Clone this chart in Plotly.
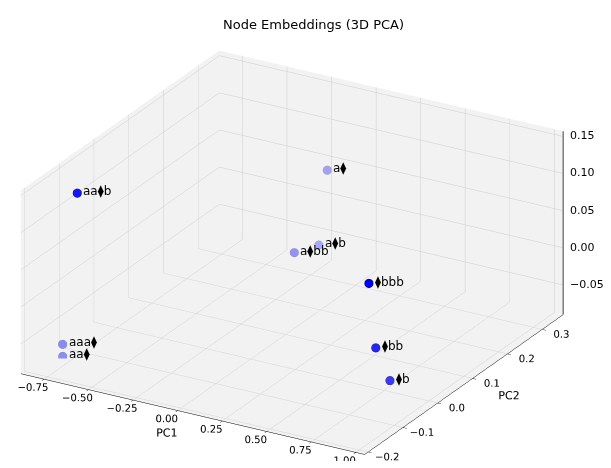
import numpy as np
import plotly.graph_objects as go

# ---- data ----
labels = ["aa⧫b", "a⧫", "a⧫b", "a⧫bb", "⧫bbb", "aaa⧫", "aa⧫", "⧫bb", "⧫b"]
pc1 = [-0.72, -0.04, 0.03, -0.01, 0.71, -0.81, -0.80, 0.76, 0.82]
pc2 = [-0.13, 0.24, 0.18, 0.13, -0.024, -0.126, -0.131, -0.03, -0.02]
pc3 = [0.136, 0.083, 0.006, 0.010, 0.060, -0.074, -0.088, -0.022, -0.066]

x_ticks = [-0.75, -0.50, -0.25, 0.00, 0.25, 0.50, 0.75, 1.00]
y_ticks = [-0.2, -0.1, 0.0, 0.1, 0.2, 0.3]
z_ticks = [-0.05, 0.00, 0.05, 0.10, 0.15]

x_range = [-0.88, 1.05]
y_range = [-0.21, 0.36]
z_range = [-0.09, 0.157]

# ---- depth shading (like matplotlib's depthshade, view elev=30, azim=-60) ----
X, Y, Z = np.array(pc1), np.array(pc2), np.array(pc3)
xn = (X - x_range[0]) / (x_range[1] - x_range[0]) * 4
yn = (Y - y_range[0]) / (y_range[1] - y_range[0]) * 4
zn = (Z - z_range[0]) / (z_range[1] - z_range[0]) * 3
elev, azim = np.radians(30), np.radians(-60)
view = np.array([np.cos(elev) * np.cos(azim), np.cos(elev) * np.sin(azim), np.sin(elev)])
depth = xn * view[0] + yn * view[1] + zn * view[2]
norm = (depth - depth.min()) / (depth.max() - depth.min())
alpha = 0.3 + 0.7 * norm  # nearest -> 1, farthest -> 0.3
bg = np.array([240, 240, 242])
blue = np.array([0, 0, 255])
fill = ["rgb(%d,%d,%d)" % tuple((bg * (1 - a) + blue * a).round()) for a in alpha]
edge = ["rgb(%d,%d,%d)" % tuple((bg * (1 - a) + np.array([0, 0, 60]) * a).round()) for a in alpha]

fig = go.Figure()
fig.add_trace(
    go.Scatter3d(
        x=pc1, y=pc2, z=pc3,
        mode="markers",
        marker=dict(size=5, color=fill, line=dict(color=edge, width=1)),
        showlegend=False,
        hoverinfo="skip",
    )
)

# z axis drawn on the right-hand back edge, like matplotlib
fig.add_trace(
    go.Scatter3d(
        x=[x_range[1], x_range[1]], y=[y_range[1], y_range[1]], z=z_range,
        mode="lines", line=dict(color="black", width=1.5),
        showlegend=False, hoverinfo="skip",
    )
)

def axis(title, rng, ticks, fmt):
    return dict(
        title=dict(text=title, font=dict(family="DejaVu Sans", size=11, color="black")),
        range=rng,
        tickvals=ticks,
        tickformat=fmt,
        tickangle=0,
        tickfont=dict(family="DejaVu Sans", size=11, color="black"),
        showbackground=True,
        backgroundcolor="rgb(242,242,242)",
        gridcolor="rgb(205,205,205)",
        gridwidth=1,
        showline=True,
        linecolor="black",
        linewidth=1,
        zeroline=False,
        ticks="outside",
        tickcolor="black",
        ticklen=4,
        showspikes=False,
        autorange=False,
    )

zax = axis("", z_range, z_ticks, ".2f")
zax.update(showticklabels=False, ticks="", showline=False)

font = dict(family="DejaVu Sans", size=11, color="black")
anns = [
    dict(
        x=x_range[1], y=y_range[1], z=t,
        text=("%.2f" % t).replace("-", "\u2212"),
        showarrow=False, xanchor="left", xshift=5, font=font,
    )
    for t in z_ticks
]
# point labels, placed just to the right of each marker
anns += [
    dict(
        x=px, y=py, z=pz, text=lab,
        showarrow=False, xanchor="left", xshift=4, yshift=1,
        font=dict(family="DejaVu Sans", size=12, color="black"),
    )
    for px, py, pz, lab in zip(pc1, pc2, pc3, labels)
]

e2 = np.radians(24.0)
cam = np.array([np.cos(e2) * np.cos(azim), np.cos(e2) * np.sin(azim), np.sin(e2)])
r = 2.0
fig.update_layout(
    width=611,
    height=468,
    margin=dict(l=0, r=0, t=0, b=0),
    paper_bgcolor="white",
    title=dict(
        text="Node Embeddings (3D PCA)",
        x=0.5, xanchor="center", y=0.965, yanchor="middle",
        font=dict(family="DejaVu Sans", size=13, color="black"),
    ),
    annotations=[
        dict(
            text="PC3", xref="paper", yref="paper", x=0.978, y=0.547,
            xanchor="left", yanchor="middle", showarrow=False, font=font,
        )
    ],
    scene=dict(
        domain=dict(x=[0, 0.93], y=[0.034, 0.924]),
        xaxis=axis("PC1", x_range, x_ticks, ".2f"),
        yaxis=axis("PC2", y_range, y_ticks, ".1f"),
        zaxis=zax,
        aspectmode="manual",
        aspectratio=dict(x=1.904, y=1.904, z=0.963),
        camera=dict(
            eye=dict(x=r * cam[0], y=r * cam[1], z=r * cam[2]),
            up=dict(x=0, y=0, z=1),
            center=dict(x=0, y=0, z=0),
            projection=dict(type="orthographic"),
        ),
        bgcolor="white",
        annotations=anns,
    ),
)

fig.write_html("out.html")
